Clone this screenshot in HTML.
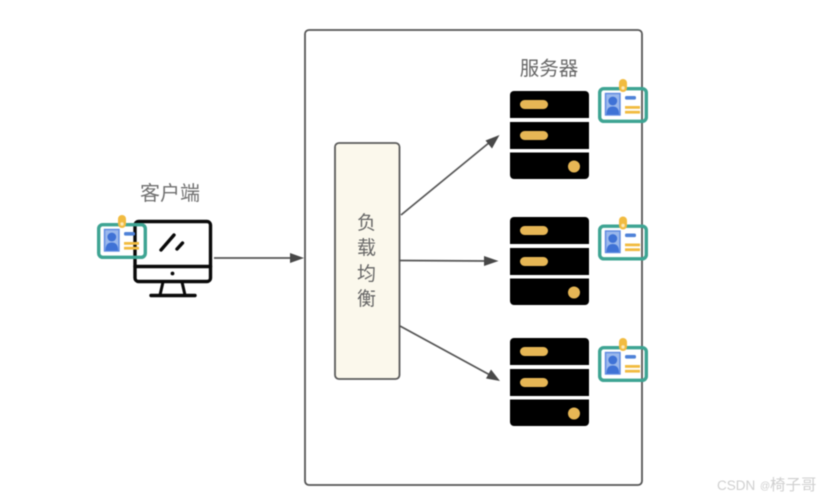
<!DOCTYPE html>
<html>
<head>
<meta charset="utf-8">
<style>
html,body{margin:0;padding:0;background:#fff;width:828px;height:500px;overflow:hidden}
svg{display:block;filter:blur(0.6px)}
text{font-family:"Liberation Sans","Noto Sans CJK SC",sans-serif}
</style>
</head>
<body>
<svg width="828" height="500" viewBox="0 0 828 500" xmlns="http://www.w3.org/2000/svg">
<defs>
  <g id="server">
    <path d="M4 0H75a4 4 0 0 1 4 4V27H0V4a4 4 0 0 1 4-4Z" fill="#000"/>
    <rect x="0" y="31" width="79" height="27" fill="#000"/>
    <path d="M0 61.500H79V84a4 4 0 0 1-4 4H4a4 4 0 0 1-4-4Z" fill="#000"/>
    <rect x="10" y="9" width="28" height="9" rx="4.500" fill="#e6b655"/>
    <rect x="10" y="40" width="28" height="9" rx="4.500" fill="#e6b655"/>
    <circle cx="64" cy="75.500" r="6" fill="#e6b655"/>
  </g>
  <g id="badge">
    <rect x="1.700" y="1.700" width="46.600" height="32.600" rx="4" fill="none" stroke="#3ea493" stroke-width="3.400"/>
    <rect x="21" y="-8" width="8" height="13" rx="4" fill="#f1bb40"/>
    <circle cx="25" cy="1" r="1.700" fill="#fde9b8"/>
    <rect x="7.500" y="6.500" width="14.500" height="21.500" fill="#9ab8ec" stroke="#5d8ae0" stroke-width="1.400"/>
    <circle cx="14.800" cy="14" r="4.400" fill="#3f72d6"/>
    <path d="M8.500 27.500c0-6 2.500-8 6.300-8s6.300 2 6.300 8Z" fill="#3f72d6"/>
    <rect x="27" y="9" width="11" height="3.600" rx="1.500" fill="#4f82d8"/>
    <rect x="27" y="19" width="15" height="2.800" fill="#f1bb40"/>
    <rect x="27" y="23.800" width="15" height="2.800" fill="#f1bb40"/>
  </g>
</defs>

<!-- container -->
<rect x="305" y="30" width="337" height="455" rx="4" fill="#fff" stroke="#555" stroke-width="1.800"/>

<!-- load balancer -->
<rect x="335" y="143" width="64.500" height="236" rx="4" fill="#fbf8ec" stroke="#5a5a5a" stroke-width="1.800"/>
<text x="366.500" y="229" font-size="19" fill="#666" text-anchor="middle">负</text>
<text x="366.500" y="254" font-size="19" fill="#666" text-anchor="middle">载</text>
<text x="366.500" y="280" font-size="19" fill="#666" text-anchor="middle">均</text>
<text x="366.500" y="305" font-size="19" fill="#666" text-anchor="middle">衡</text>

<!-- arrows -->
<g stroke="#555" stroke-width="1.700" fill="none">
  <line x1="214" y1="258" x2="294" y2="258"/>
  <line x1="401" y1="215" x2="490" y2="142"/>
  <line x1="400" y1="260.500" x2="488" y2="261"/>
  <line x1="400" y1="326" x2="490" y2="375"/>
</g>
<g fill="#484848">
  <polygon points="304,258 290,253 290,263"/>
  <polygon points="499.500,135 492,148.500 485.500,140.500"/>
  <polygon points="498.500,261 484,256 484,266"/>
  <polygon points="500,381 486,378.500 491,369.500"/>
</g>

<!-- client label -->
<text x="170" y="200" font-size="20" fill="#707070" text-anchor="middle">客户端</text>

<!-- monitor -->
<g fill="none" stroke="#0a0a0a" stroke-width="3.400" stroke-linejoin="round" stroke-linecap="round">
  <rect x="135" y="221.500" width="75.500" height="60" rx="3.500" fill="#fff"/>
  <line x1="135" y1="266.500" x2="210.500" y2="266.500"/>
  <line x1="161" y1="250" x2="174" y2="235"/>
  <line x1="177" y1="249" x2="182.500" y2="243"/>
  <path d="M163 282L160 295M182 282L185 295" stroke-width="3"/>
  <line x1="151" y1="295.500" x2="195" y2="295.500"/>
</g>
<circle cx="172.500" cy="273.500" r="1.900" fill="#0a0a0a"/>

<!-- client badge -->
<use href="#badge" x="97" y="223"/>

<!-- server label -->
<text x="549" y="75" font-size="19.500" fill="#666" text-anchor="middle">服务器</text>

<!-- servers -->
<use href="#server" x="510" y="91"/>
<use href="#server" x="510" y="217"/>
<use href="#server" x="510" y="338"/>

<!-- server badges -->
<use href="#badge" x="598" y="87"/>
<use href="#badge" x="598" y="224.500"/>
<use href="#badge" x="598" y="346"/>

<!-- watermark -->
<text x="717" y="490" font-size="13.500" fill="#cfcfcf">CSDN</text>
<text x="760" y="489" font-size="10" fill="#cfcfcf">@</text>
<text x="770" y="490" font-size="15.500" fill="#cfcfcf">椅子哥</text>
</svg>
</body>
</html>
